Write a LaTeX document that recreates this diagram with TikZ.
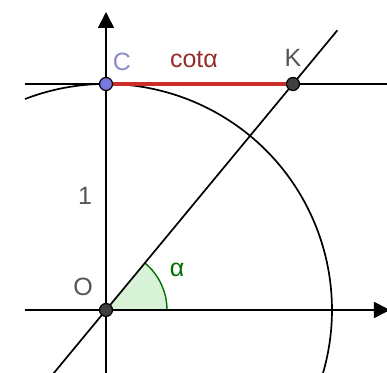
\documentclass[tikz,border=0pt]{standalone}
\usepackage{fontspec}
\setmainfont{Liberation Sans}
\usetikzlibrary{arrows.meta}
\definecolor{ptblue}{RGB}{120,120,225}
\definecolor{ptgrey}{RGB}{64,64,64}
\definecolor{segred}{RGB}{205,45,40}
\definecolor{lblred}{RGB}{150,45,45}
\definecolor{lblblue}{RGB}{140,140,205}
\definecolor{lblgrey}{RGB}{85,85,85}
\definecolor{anggreen}{RGB}{0,110,0}
\definecolor{angfill}{RGB}{215,242,215}
\tikzset{
  axisline/.style={line width=0.85pt, black},
  axisarrow/.style={axisline, -{Triangle[length=8pt,width=8pt]}},
  pt/.style={circle, draw=black, line width=0.6pt, inner sep=0pt, minimum size=6.5pt},
  lbl/.style={inner sep=0pt, font=\fontsize{12.5}{14}\selectfont},
}
\begin{document}
\begin{tikzpicture}[x=0.5pt,y=0.5pt]
\useasboundingbox (-106,-63) rectangle (281,310);
\def\ang{50.4}
\coordinate (O) at (0,0);
\coordinate (C) at (0,226);
\coordinate (K) at (187,226);
\coordinate (xl) at (-81,0);
\coordinate (xr) at (284,0);
\coordinate (yb) at (0,-63);
\coordinate (yt) at (0,298);
\coordinate (hl) at (-81,226);
\coordinate (hr) at (281,226);
\coordinate (lb) at (\ang+180:82);
\coordinate (lt) at (\ang:363);
% angle sector
\fill[angfill] (O) -- (61,0) arc[start angle=0, end angle=\ang, radius=61] -- cycle;
\draw[anggreen, line width=0.7pt] (61,0) arc[start angle=0, end angle=\ang, radius=61];
% circle arc
\draw[axisline] (111:226) arc[start angle=111, end angle=-16.2, radius=226];
% axes
\draw[axisarrow] (xl) -- (xr);
\draw[axisarrow] (yb) -- (yt);
\draw[axisline] (hl) -- (hr);
\draw[axisline] (lb) -- (lt);
% cot segment
\draw[segred, line width=2.2pt] (C) -- (K);
% points
\node[pt, fill=ptblue] (Cp) at (C) {};
\node[pt, fill=ptgrey] (Kp) at (K) {};
\node[pt, fill=ptgrey] (Op) at (O) {};
% labels
\node[lbl, text=lblblue] (Cl) at (16,248) {C};
\node[lbl, text=lblred] (cotl) at (88,250) {cotα};
\node[lbl, text=lblgrey] (Kl) at (187,252) {K};
\node[lbl, text=lblgrey] (onel) at (-21,114) {1};
\node[lbl, text=lblgrey] (Ol) at (-23,23) {O};
\node[lbl, text=anggreen] (al) at (71,40) {α};
\end{tikzpicture}
\end{document}
